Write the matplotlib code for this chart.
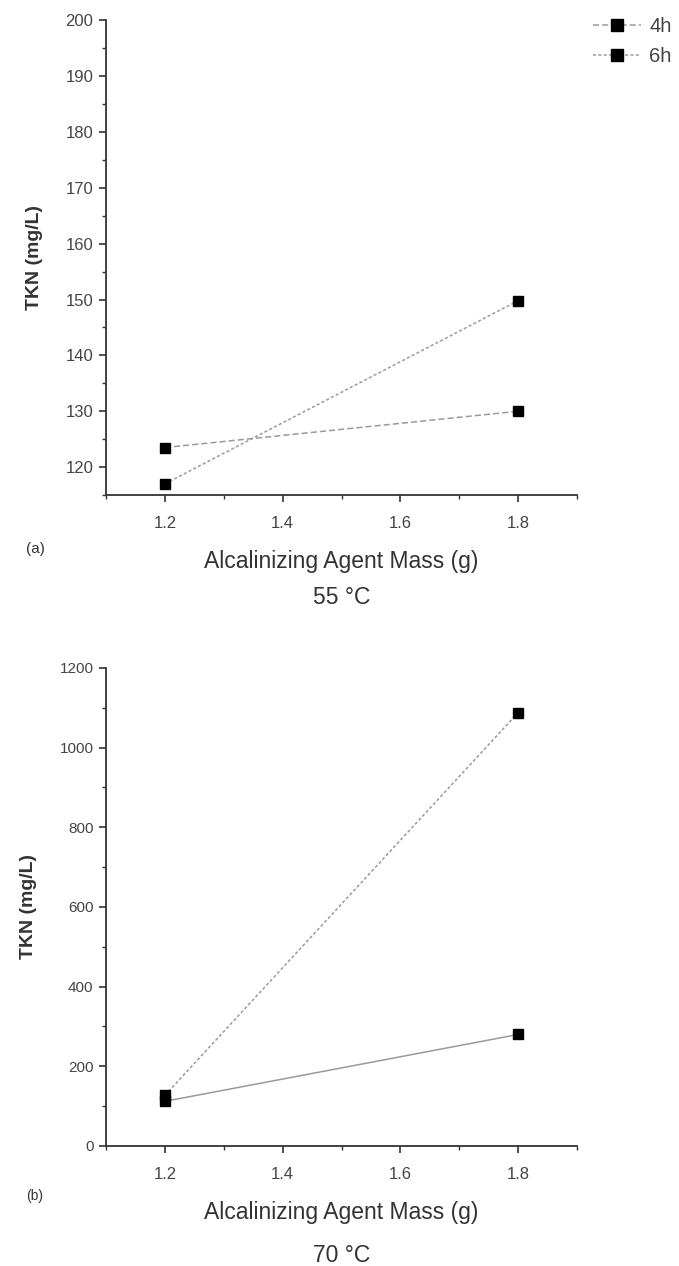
import numpy as np
import matplotlib
matplotlib.use("Agg")
import matplotlib.pyplot as plt
from matplotlib.ticker import MultipleLocator

plt.rcParams['font.family'] = ['Liberation Sans', 'DejaVu Sans']

# data
mass = [1.2, 1.8]
tkn_55_4h = [123.5, 130.0]
tkn_55_6h = [117.0, 149.8]
tkn_70_4h = [112.0, 280.0]
tkn_70_6h = [127.0, 1088.0]
series_labels = ['4h', '6h']

ink = '#333333'
line_col = '#9a9a9a'

fig = plt.figure(figsize=(6.79, 12.66), dpi=100)
ax1 = fig.add_axes([0.156, 0.609, 0.694, 0.375])
ax2 = fig.add_axes([0.156, 0.0948, 0.694, 0.3776])


def style(ax):
    for s in ['top', 'right']:
        ax.spines[s].set_visible(False)
    for s in ['left', 'bottom']:
        ax.spines[s].set_color(ink)
        ax.spines[s].set_linewidth(1.3)
    ax.tick_params(which='major', direction='out', length=5, width=1.2,
                   colors=ink, labelsize=12, labelcolor='#444444', pad=4)
    ax.tick_params(axis='x', which='major', pad=10)
    ax.tick_params(which='minor', direction='out', length=3, width=1.0, colors=ink)
    ax.set_xlim(1.1, 1.9)
    ax.xaxis.set_minor_locator(MultipleLocator(0.1))
    ax.set_xticks([1.2, 1.4, 1.6, 1.8])
    ax.set_xlabel('Alcalinizing Agent Mass (g)', fontsize=16.5, color=ink, labelpad=14)
    ax.set_ylabel('TKN (mg/L)', fontsize=14, color=ink, fontweight='bold', labelpad=16)


# (a) 55 C
ax1.plot(mass, tkn_55_4h, color=line_col, ls=(0, (4, 2)), lw=1.1,
         marker='s', ms=7, mfc='black', mec='black', label=series_labels[0])
ax1.plot(mass, tkn_55_6h, color=line_col, ls=(0, (2, 1.5)), lw=1.1,
         marker='s', ms=7, mfc='black', mec='black', label=series_labels[1])
style(ax1)
ax1.set_ylim(115, 200)
ax1.yaxis.set_minor_locator(MultipleLocator(5))
ax1.set_yticks(np.arange(120, 201, 10))
ax1.text(0.5, -0.215, '55 °C', transform=ax1.transAxes, ha='center', va='center',
         fontsize=16.5, color=ink)
ax1.text(-0.17, -0.113, '(a)', transform=ax1.transAxes, ha='left', va='center',
         fontsize=11, color=ink)
ax1.legend(loc='upper left', bbox_to_anchor=(0.995, 1.045), frameon=False,
           fontsize=14.5, handlelength=2.4, labelspacing=0.55, handletextpad=0.4,
           labelcolor='#444444', markerscale=1.3)

# (b) 70 C
ax2.plot(mass, tkn_70_4h, color=line_col, ls='-', lw=1.1,
         marker='s', ms=7, mfc='black', mec='black')
ax2.plot(mass, tkn_70_6h, color=line_col, ls=(0, (2, 1.5)), lw=1.1,
         marker='s', ms=7, mfc='black', mec='black')
style(ax2)
ax2.set_ylim(0, 1200)
ax2.yaxis.set_major_locator(MultipleLocator(200))
ax2.yaxis.set_minor_locator(MultipleLocator(100))
ax2.tick_params(axis='y', labelsize=11)
ax2.text(0.5, -0.23, '70 °C', transform=ax2.transAxes, ha='center', va='center',
         fontsize=16.5, color=ink)
ax2.text(-0.17, -0.105, '(b)', transform=ax2.transAxes, ha='left', va='center',
         fontsize=10, color=ink)

fig.savefig('out.png', dpi=100)
